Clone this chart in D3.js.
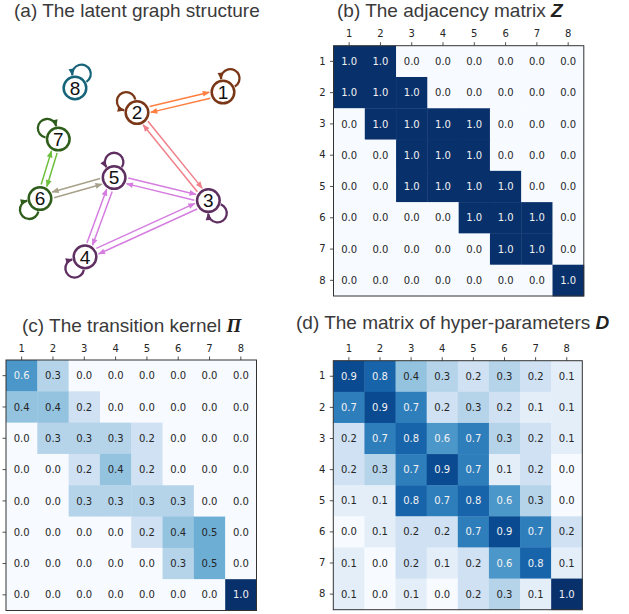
<!DOCTYPE html>
<html><head><meta charset="utf-8">
<script src="https://cdn.jsdelivr.net/npm/d3@7"></script>
<style>body{margin:0;background:#fff}svg{display:block}</style>
</head><body><svg id="fig" width="629" height="614"></svg>
<script>
// ---- data ----
const labels = ["1", "2", "3", "4", "5", "6", "7", "8"];

// adjacency matrix Z (diagonal = self loops)
const Z = [
  [1, 1, 0, 0, 0, 0, 0, 0],
  [1, 1, 1, 0, 0, 0, 0, 0],
  [0, 1, 1, 1, 1, 0, 0, 0],
  [0, 0, 1, 1, 1, 0, 0, 0],
  [0, 0, 1, 1, 1, 1, 0, 0],
  [0, 0, 0, 0, 1, 1, 1, 0],
  [0, 0, 0, 0, 0, 1, 1, 0],
  [0, 0, 0, 0, 0, 0, 0, 1]
];

// transition kernel Pi
const PI = [
  [0.6, 0.3, 0.0, 0.0, 0.0, 0.0, 0.0, 0.0],
  [0.4, 0.4, 0.2, 0.0, 0.0, 0.0, 0.0, 0.0],
  [0.0, 0.3, 0.3, 0.3, 0.2, 0.0, 0.0, 0.0],
  [0.0, 0.0, 0.2, 0.4, 0.2, 0.0, 0.0, 0.0],
  [0.0, 0.0, 0.3, 0.3, 0.3, 0.3, 0.0, 0.0],
  [0.0, 0.0, 0.0, 0.0, 0.2, 0.4, 0.5, 0.0],
  [0.0, 0.0, 0.0, 0.0, 0.0, 0.3, 0.5, 0.0],
  [0.0, 0.0, 0.0, 0.0, 0.0, 0.0, 0.0, 1.0]
];

// hyper-parameters D
const D = [
  [0.9, 0.8, 0.4, 0.3, 0.2, 0.3, 0.2, 0.1],
  [0.7, 0.9, 0.7, 0.2, 0.3, 0.2, 0.1, 0.1],
  [0.2, 0.7, 0.8, 0.6, 0.7, 0.3, 0.2, 0.1],
  [0.2, 0.3, 0.7, 0.9, 0.7, 0.1, 0.2, 0.0],
  [0.1, 0.1, 0.8, 0.7, 0.8, 0.6, 0.3, 0.0],
  [0.0, 0.1, 0.2, 0.2, 0.7, 0.9, 0.7, 0.2],
  [0.1, 0.0, 0.2, 0.1, 0.2, 0.6, 0.8, 0.1],
  [0.1, 0.0, 0.1, 0.0, 0.2, 0.3, 0.1, 1.0]
];

// community of each node
const nodeGroup = [0, 0, 1, 1, 1, 2, 2, 3];

// ---- graph layout (normalised coordinates, loop direction in degrees, loop arrow side) ----
const layoutX = [1.0, 0.53, 0.92, 0.246, 0.405, 0.0, 0.1, 0.191];
const layoutY = [0.024, 0.145, 0.666, 0.999, 0.53, 0.654, 0.302, 0.0];
const loopAngle = [-62, -134, 54, 132, -90, 134, -136, -65];
const loopSide = [1, 1, -1, -1, 1, -1, -1, 1];
const flippedPairs = ["4-5"]; // pairs drawn with the opposite parallel offset

// ---- styles ----
const groupColor = ["#7a3717", "#5e2f60", "#2f5d1b", "#17647a"];
const edgeColor = { "0-0": "#ff7f40", "0-1": "#f0808a", "1-1": "#d57ee0", "1-2": "#a7a08a", "2-2": "#6dbf3e" };
const titleFont = "'Liberation Sans', Arial, sans-serif";
const tickFont = "'DejaVu Sans', sans-serif";
const textDark = "#262626";

const svg = d3.select("#fig");

// ---- titles ----
function title(x, y, plain, sym, symFont) {
  const t = svg.append("text").attr("x", x).attr("y", y)
    .attr("font-family", titleFont).attr("font-size", 19).attr("fill", "#3a3a3a");
  t.append("tspan").text(plain);
  if (sym) t.append("tspan").text(sym).attr("font-weight", "bold").attr("font-style", "italic")
    .attr("font-family", symFont || titleFont).attr("fill", "#222");
}
title(14, 16.5, "(a) The latent graph structure");
title(337, 16.5, "(b) The adjacency matrix ", "Z");
title(22, 332, "(c) The transition kernel ", "Π", "'Liberation Serif', 'DejaVu Serif', serif");
title(296, 329, "(d) The matrix of hyper-parameters ", "D");

// ---- heatmaps ----
function heatmap(M, x0, y0, size, rowLabels) {
  const g = svg.append("g");
  const x = d3.scaleBand().domain(labels).range([x0, x0 + size]);
  const y = d3.scaleBand().domain(labels).range([y0, y0 + size]);
  const color = d3.scaleSequential(d3.interpolateBlues).domain(d3.extent(M.flat()));
  const cells = [];
  M.forEach((row, i) => row.forEach((v, j) => cells.push({ r: labels[i], c: labels[j], v })));

  g.selectAll("rect.cell").data(cells).join("rect").attr("class", "cell")
    .attr("x", d => x(d.c)).attr("y", d => y(d.r))
    .attr("width", x.bandwidth() + 0.4).attr("height", y.bandwidth() + 0.4)
    .attr("fill", d => color(d.v));

  g.selectAll("text.val").data(cells).join("text").attr("class", "val")
    .attr("x", d => x(d.c) + x.bandwidth() / 2).attr("y", d => y(d.r) + y.bandwidth() / 2)
    .attr("dy", "0.36em").attr("text-anchor", "middle")
    .attr("font-family", tickFont).attr("font-size", 10)
    .attr("fill", d => d.v > 0.5 ? "#f2f2f2" : textDark)
    .text(d => d3.format(".1f")(d.v));

  const top = g.append("g").attr("transform", `translate(0,${y0})`)
    .call(d3.axisTop(x).tickSize(3.5).tickPadding(5));
  const leftAxis = d3.axisLeft(y).tickSize(3.5).tickPadding(4.5);
  if (!rowLabels) leftAxis.tickFormat("");
  const left = g.append("g").attr("transform", `translate(${x0},0)`).call(leftAxis);
  [top, left].forEach(a => {
    a.select(".domain").remove();
    a.selectAll("line").attr("stroke", textDark).attr("stroke-width", 0.8);
    a.selectAll("text").attr("font-family", tickFont).attr("font-size", 10).attr("fill", textDark);
  });

  g.append("rect").attr("x", x0).attr("y", y0).attr("width", size).attr("height", size)
    .attr("fill", "none").attr("stroke", "#333").attr("stroke-width", 1);
}
heatmap(Z, 333.5, 45.7, 250.3, true);
heatmap(PI, 6, 360, 250.5, false);   // row labels fall outside the page here
heatmap(D, 333.3, 360.7, 249, true);

// ---- graph ----
const gx = d3.scaleLinear().domain([0, 1]).range([40, 223]);
const gy = d3.scaleLinear().domain([0, 1]).range([88, 257]);
const nodes = labels.map((l, i) => ({ id: l, i, x: gx(layoutX[i]), y: gy(layoutY[i]), grp: nodeGroup[i] }));
const R = 11.3;          // node radius (stroke centre)
const Rout = 12.6;       // outer edge of node ring
const gG = svg.append("g");
const defs = svg.append("defs");

function marker(id, col) {
  defs.append("marker").attr("id", id).attr("markerUnits", "userSpaceOnUse")
    .attr("viewBox", "-7 -3.5 8 7").attr("refX", 0).attr("refY", 0)
    .attr("markerWidth", 8).attr("markerHeight", 7).attr("orient", "auto")
    .append("path").attr("d", "M0.6,0 L-6.5,-2.9 L-6.5,2.9 Z").attr("fill", col);
}
Object.entries(edgeColor).forEach(([k, c]) => marker("m" + k, c));
groupColor.forEach((c, k) => marker("n" + k, c));

// directed edges from the off-diagonal entries of Z
const edges = [];
Z.forEach((row, i) => row.forEach((v, j) => { if (v && i !== j) edges.push({ s: nodes[i], t: nodes[j] }); }));

edges.forEach(e => {
  const a = Math.min(e.s.grp, e.t.grp), b = Math.max(e.s.grp, e.t.grp);
  const key = a + "-" + b;
  const dx = e.t.x - e.s.x, dy = e.t.y - e.s.y, L = Math.hypot(dx, dy);
  const ux = dx / L, uy = dy / L;
  const pair = Math.min(e.s.i, e.t.i) + "-" + Math.max(e.s.i, e.t.i);
  const off = 3 * (flippedPairs.includes(pair) ? -1 : 1);
  const nx = uy * off, ny = -ux * off;
  const along = Math.sqrt(Rout * Rout - 9);
  const t0 = along + 1.5, t1 = L - along - 1.2;
  gG.append("line")
    .attr("x1", e.s.x + ux * t0 + nx).attr("y1", e.s.y + uy * t0 + ny)
    .attr("x2", e.s.x + ux * (t1 - 3) + nx).attr("y2", e.s.y + uy * (t1 - 3) + ny)
    .attr("stroke", edgeColor[key]).attr("stroke-width", 1.5);
  // arrow head at the target end
  gG.append("path")
    .attr("d", `M${e.s.x + ux * (t1 - 3) + nx},${e.s.y + uy * (t1 - 3) + ny} L${e.s.x + ux * t1 + nx},${e.s.y + uy * t1 + ny}`)
    .attr("stroke", edgeColor[key]).attr("stroke-width", 1.5)
    .attr("marker-end", `url(#m${key})`);
});

// self loops from the diagonal of Z
const loopR = 9.3, loopD = 15.5, loopEnd = 13;
nodes.forEach(n => {
  if (!Z[n.i][n.i]) return;
  const ang = loopAngle[n.i] * Math.PI / 180;
  const cx = n.x + loopD * Math.cos(ang), cy = n.y + loopD * Math.sin(ang);
  const thN = Math.atan2(n.y - cy, n.x - cx);
  const beta = Math.acos((loopD * loopD + loopR * loopR - loopEnd * loopEnd) / (2 * loopD * loopR));
  const s = loopSide[n.i];
  const th0 = thN - s * beta, th1 = thN + s * beta;
  const p0 = [cx + loopR * Math.cos(th0), cy + loopR * Math.sin(th0)];
  const p1 = [cx + loopR * Math.cos(th1), cy + loopR * Math.sin(th1)];
  const sweep = s > 0 ? 0 : 1;
  gG.append("path")
    .attr("d", `M${p0[0]},${p0[1]} A${loopR},${loopR} 0 1 ${sweep} ${p1[0]},${p1[1]}`)
    .attr("fill", "none").attr("stroke", groupColor[n.grp]).attr("stroke-width", 2.3)
    .attr("marker-end", `url(#n${n.grp})`);
});

// nodes
const ng = gG.selectAll("g.node").data(nodes).join("g").attr("class", "node")
  .attr("transform", d => `translate(${d.x},${d.y})`);
ng.append("circle").attr("r", R).attr("fill", "#fff")
  .attr("stroke", d => groupColor[d.grp]).attr("stroke-width", 2.5);
ng.append("text").attr("text-anchor", "middle").attr("dy", "0.36em")
  .attr("font-family", titleFont).attr("font-size", 19).attr("fill", "#111")
  .text(d => d.id);
</script>
</body></html>
